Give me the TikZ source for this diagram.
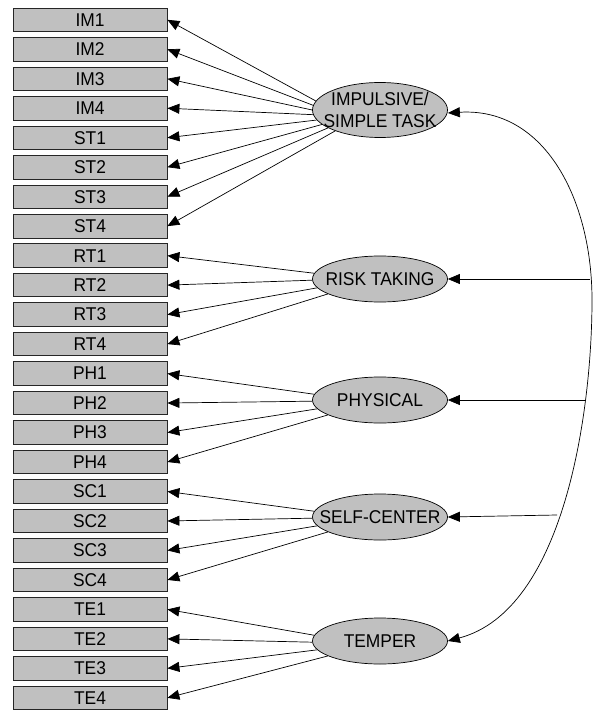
\documentclass[tikz,border=0pt]{standalone}
\usepackage{fontspec}
\setmainfont[FakeStretch=0.94]{Liberation Sans}
\usetikzlibrary{shapes.geometric,arrows.meta}
\definecolor{boxgray}{RGB}{192,192,192}
\begin{document}
\begin{tikzpicture}[x=1pt,y=-1pt,
  lbl/.style={font=\fontsize{18.5}{21.5}\selectfont,inner sep=0pt,align=center},
  item/.style={lbl,draw=black!85,line width=0.8pt,fill=boxgray,minimum width=154pt,
    minimum height=23.5pt},
  factor/.style={ellipse,draw=black,line width=0.7pt,fill=boxgray,minimum width=135pt,
    minimum height=46pt,inner sep=0pt},
  load/.style={line width=0.7pt,-{Triangle[length=12pt,width=10pt]}},
  cov/.style={line width=0.7pt,-{Triangle[length=12pt,width=10pt]}}]
\useasboundingbox (0,0) rectangle (595,711);

% observed indicators, top to bottom
\foreach \lab [count=\i from 0] in {IM1,IM2,IM3,IM4,ST1,ST2,ST3,ST4,
    RT1,RT2,RT3,RT4,PH1,PH2,PH3,PH4,SC1,SC2,SC3,SC4,TE1,TE2,TE3,TE4}
  \node[item] (\lab) at (90,{19.8+29.48*\i}) {\lab};

% latent factors: fixed-size ellipses with their names set on top
\node[factor,minimum height=55pt] (imp) at (380,110) {};
\node[factor] (rt) at (380,279) {};
\node[factor] (ph) at (380,400) {};
\node[factor] (sc) at (380,517) {};
\node[factor] (te) at (380,641) {};
\node[lbl] (imp-t) at (imp) {IMPULSIVE/\\SIMPLE TASK};
\node[lbl] (rt-t) at (rt) {RISK TAKING};
\node[lbl] (ph-t) at (ph) {PHYSICAL};
\node[lbl] (sc-t) at (sc) {SELF-CENTER};
\node[lbl] (te-t) at (te) {TEMPER};

% loadings
\foreach \lab/\a in {IM1/172,IM2/176,IM3/180,IM4/184,ST1/189,ST2/194,ST3/199,ST4/205}
  \draw[load] (imp.\a) -- (\lab.east);
\foreach \f/\p in {rt/RT,ph/PH,sc/SC,te/TE}
  \foreach \k/\a in {1/175,2/181,3/188,4/196}
    \draw[load] (\f.\a) -- (\p\k.east);

% correlation arc and its branches
\coordinate (c1) at (590,279);
\coordinate (c2) at (585,400);
\coordinate (c3) at (557,515);
\draw[line width=0.7pt,{Triangle[length=12pt,width=10pt]}-{Triangle[length=12pt,width=10pt]}]
  ([yshift=-3pt]imp.east) .. controls (545,107) and (592,200) .. (592,300)
  .. controls (592,410) and (565,610) .. (te.east);
\draw[cov] (c1) -- (rt.east);
\draw[cov] (c2) -- (ph.east);
\draw[cov] (c3) -- (sc.east);
\end{tikzpicture}
\end{document}
